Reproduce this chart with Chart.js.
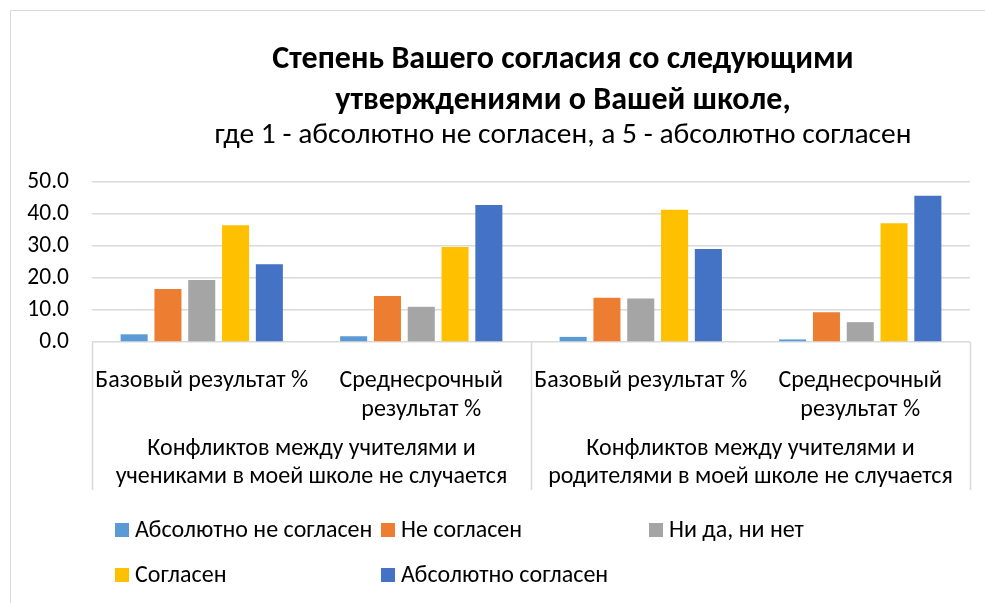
<!DOCTYPE html>
<html>
<head>
<meta charset="utf-8">
<script src="https://cdn.jsdelivr.net/npm/chart.js"></script>
<style>
  html, body { margin: 0; padding: 0; background: #fff; }
  #wrap { position: relative; width: 985px; height: 603px; overflow: hidden; }
  #frame { position: absolute; left: 10px; top: 10px; width: 990px; height: 600px; border: 1px solid #d9d9d9; }
  canvas { position: absolute; left: 0; top: 0; }
</style>
</head>
<body>
<div id="wrap">
  <div id="frame"></div>
  <canvas id="chart" width="985" height="603"></canvas>
</div>
<script>
const FONT = "Carlito, Calibri, 'Liberation Sans Narrow', 'Open Sans', sans-serif";

const titleLines = ["Степень Вашего согласия со следующими", "утверждениями о Вашей школе,"];
const subtitleText = "где 1 - абсолютно не согласен, а 5 - абсолютно согласен";

const categories = [
  ["Базовый результат %"],
  ["Среднесрочный", "результат %"],
  ["Базовый результат %"],
  ["Среднесрочный", "результат %"]
];
const groups = [
  ["Конфликтов между учителями и", "учениками в моей школе не случается"],
  ["Конфликтов между учителями и", "родителями в моей школе не случается"]
];
const seriesNames = ["Абсолютно не согласен", "Не согласен", "Ни да, ни нет", "Согласен", "Абсолютно согласен"];
const seriesColors = ["#5B9BD5", "#ED7D31", "#A5A5A5", "#FFC000", "#4472C4"];

const absNotAgree = [2.4, 1.8, 1.6, 0.8];
const notAgree    = [16.6, 14.4, 13.8, 9.3];
const neutral     = [19.4, 11.0, 13.6, 6.2];
const agree       = [36.5, 29.7, 41.3, 37.1];
const absAgree    = [24.3, 42.8, 29.1, 45.7];
const seriesData = [absNotAgree, notAgree, neutral, agree, absAgree];

// legend grid, like Excel places it
const legendCols = [115, 381, 649];
const legendRows = [530, 575];

const extrasPlugin = {
  id: "extras",
  afterDraw(chart) {
    const ctx = chart.ctx;
    const xs = chart.scales.x;
    const area = chart.chartArea;
    const bottom = 490;
    ctx.save();
    // title block (Excel centres it a bit to the right of the canvas)
    ctx.fillStyle = "#000";
    ctx.textAlign = "center";
    ctx.textBaseline = "middle";
    ctx.font = "bold 32px " + FONT;
    titleLines.forEach((t, i) => ctx.fillText(t, 563, 60 + i * 41));
    ctx.font = "29.5px " + FONT;
    ctx.fillText(subtitleText, 563, 136);
    // group separators
    ctx.strokeStyle = "#d9d9d9";
    ctx.lineWidth = 1.5;
    const per = categories.length / groups.length;
    const step = (area.right - area.left) / categories.length;
    for (let g = 0; g <= groups.length; g++) {
      const x = Math.round(area.left + g * per * step) + 0.5;
      ctx.beginPath();
      ctx.moveTo(x, area.bottom);
      ctx.lineTo(x, bottom);
      ctx.stroke();
    }
    // group labels
    ctx.font = "24px " + FONT;
    groups.forEach((lines, g) => {
      const cx = (xs.getPixelForValue(g * per) + xs.getPixelForValue(g * per + per - 1)) / 2;
      lines.forEach((t, i) => ctx.fillText(t, cx, 449 + i * 28));
    });
    // legend
    ctx.textAlign = "left";
    chart.data.datasets.forEach((ds, i) => {
      const col = legendCols[i % 3];
      const row = legendRows[Math.floor(i / 3)];
      ctx.fillStyle = ds.backgroundColor;
      ctx.fillRect(col, row - 7, 14, 14);
      ctx.fillStyle = "#000";
      ctx.fillText(ds.label, col + 20, row + 1);
    });
    ctx.restore();
  }
};

new Chart(document.getElementById("chart"), {
  type: "bar",
  data: {
    labels: categories,
    datasets: seriesNames.map((name, i) => ({
      label: name,
      data: seriesData[i],
      backgroundColor: seriesColors[i],
      borderWidth: 0,
      categoryPercentage: 0.77,
      barPercentage: 0.8
    }))
  },
  options: {
    responsive: false,
    animation: false,
    devicePixelRatio: 1,
    layout: { padding: { left: 22, right: 15, top: 182, bottom: 113 } },
    plugins: {
      legend: { display: false },
      tooltip: { enabled: false },
      title: { display: false }
    },
    scales: {
      x: {
        grid: { display: false },
        border: { display: false },
        ticks: { color: "#000", font: { family: FONT, size: 24, lineHeight: 1.2 }, padding: 17, maxRotation: 0, autoSkip: false },
        afterFit(scale) { scale.height = 148; }
      },
      y: {
        min: 0, max: 50,
        grid: { color: "#d9d9d9", lineWidth: 1.5, drawTicks: false },
        border: { display: false },
        ticks: { stepSize: 10, color: "#000", font: { family: FONT, size: 23.5 }, padding: 23,
                 callback: v => v.toFixed(1) },
        afterFit(scale) { scale.width = 70; }
      }
    }
  },
  plugins: [extrasPlugin]
});
</script>
</body>
</html>
